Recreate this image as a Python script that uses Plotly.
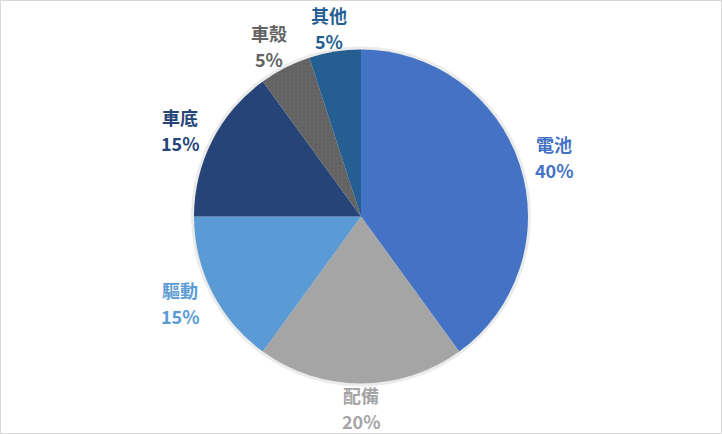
import math
import plotly.graph_objects as go

labels = ["電池", "配備", "驅動", "車底", "車殼", "其他"]
values = [40, 20, 15, 15, 5, 5]
colors = ["#4472C4", "#A5A5A5", "#5B9BD5", "#264478", "#636363", "#255E91"]

W, H = 722, 434
cx, cy, r = 361, 216.5, 167   # pie centre and radius, px from top-left
gap_x, gap_y = 36, 24         # label offset beyond the rim
line_pitch = 26               # spacing between name and percent lines


def dom(rad):
    return dict(
        x=[(cx - rad) / W, (cx + rad) / W],
        y=[(H - cy - rad) / H, (H - cy + rad) / H],
    )


fig = go.Figure()

# soft halo behind the pie (stand-in for Excel's shadow)
fig.add_trace(go.Pie(
    values=[1], marker=dict(colors=["#ebebeb"], line=dict(width=0)),
    textinfo="none", hoverinfo="skip", showlegend=False, sort=False,
    domain=dom(r + 3),
))

fig.add_trace(go.Pie(
    labels=labels,
    values=values,
    sort=False,
    direction="clockwise",
    rotation=0,
    marker=dict(
        colors=colors,
        line=dict(width=0),
        pattern=dict(
            shape=["", "", "", "", ".", ""],
            fgcolor="#7c7c7c",
            size=4,
            solidity=0.1,
            fillmode="overlay",
        ),
    ),
    textinfo="none",
    showlegend=False,
    hoverinfo="label+percent",
    domain=dom(r),
))

# data labels, placed outside each slice at its middle angle
total = sum(values)
annotations = []
acc = 0
for lab, val, col in zip(labels, values, colors):
    mid = (acc + val / 2) / total * 2 * math.pi
    acc += val
    px = cx + (r + gap_x) * math.sin(mid)
    py = cy - (r + gap_y) * math.cos(mid)
    for txt, shift in ((lab, line_pitch / 2), (f"{val / total:.0%}", -line_pitch / 2)):
        annotations.append(dict(
            x=px / W, y=1 - py / H, xref="paper", yref="paper",
            text=txt, yshift=shift,
            showarrow=False, xanchor="center", yanchor="middle",
            font=dict(family="Noto Sans CJK TC", size=18, color=col, weight="bold"),
        ))

fig.update_layout(
    width=W,
    height=H,
    margin=dict(l=0, r=0, t=0, b=0, autoexpand=False),
    paper_bgcolor="white",
    plot_bgcolor="white",
    font=dict(family="Noto Sans CJK TC"),
    annotations=annotations,
    shapes=[
        dict(
            type="rect", xref="paper", yref="paper",
            x0=0, y0=0, x1=1, y1=1,
            line=dict(color="#D9D9D9", width=2),
        )
    ],
)

# page margin off so the figure sits at the window's corner
fig.write_html(
    "out.html",
    config={"displayModeBar": False},
    post_script="document.body.style.margin='0';",
)
